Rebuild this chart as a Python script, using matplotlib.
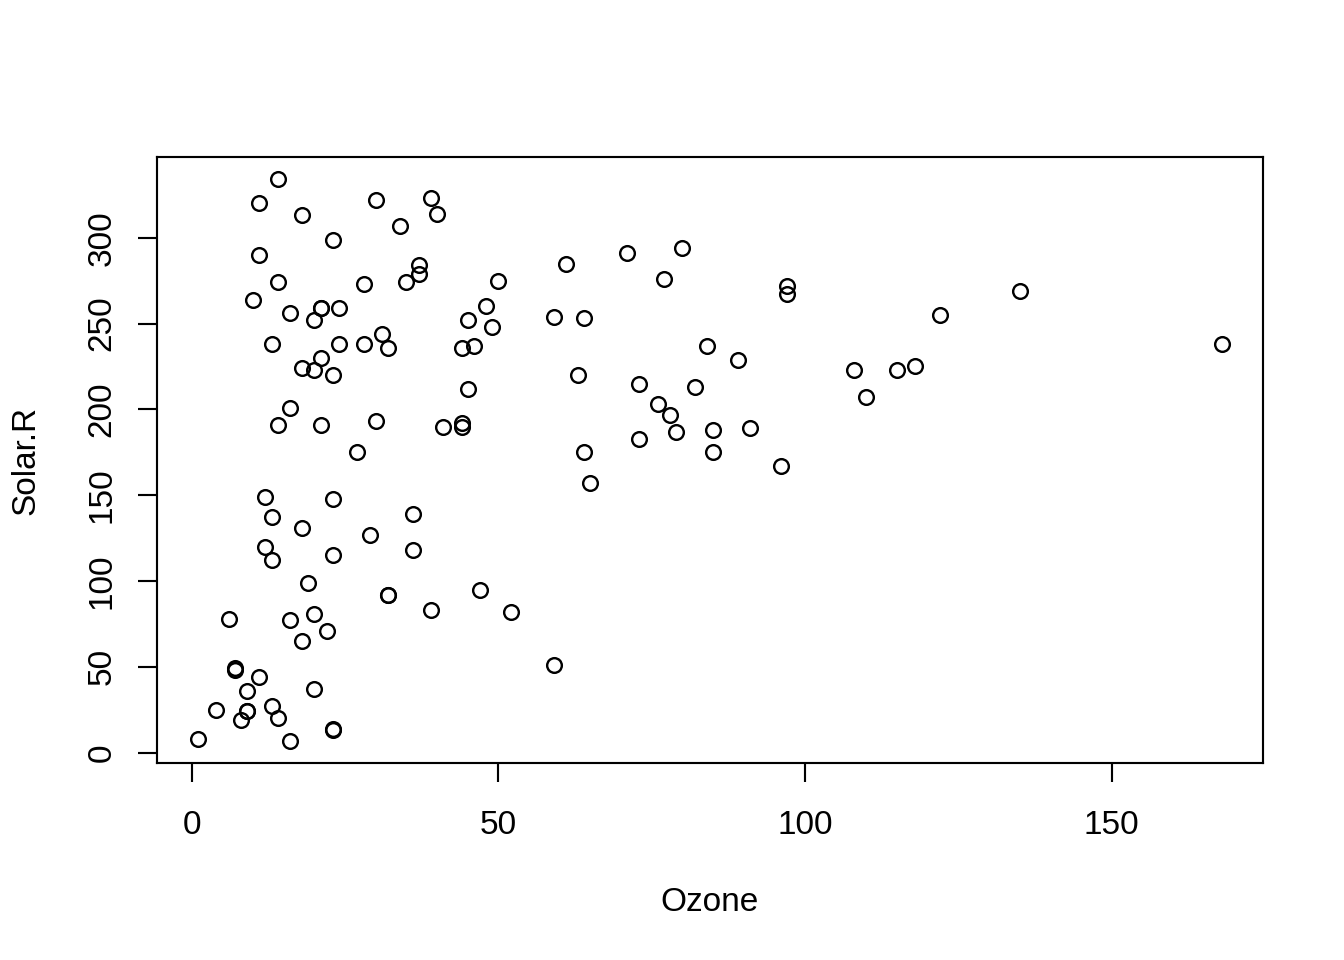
import matplotlib
matplotlib.use("Agg")
import matplotlib.pyplot as plt
import numpy as np

ozone = [41, 36, 12, 18, 23, 19, 8, 16, 11, 14, 18, 14, 34, 6, 30, 11, 1, 11, 4, 32,
         23, 45, 115, 37, 29, 71, 39, 23, 21, 37, 20, 12, 13, 135, 49, 32, 64, 40, 77, 97,
         97, 85, 10, 27, 7, 48, 35, 61, 79, 63, 16, 80, 108, 20, 52, 82, 50, 64, 59, 39,
         9, 16, 122, 89, 110, 44, 28, 65, 22, 59, 23, 31, 44, 21, 9, 45, 168, 73, 76, 118,
         84, 85, 96, 78, 73, 91, 47, 32, 20, 23, 21, 24, 44, 21, 28, 9, 13, 46, 18, 13,
         24, 16, 13, 23, 36, 7, 14, 30, 14, 18, 20]
solar_r = [190, 118, 149, 313, 299, 99, 19, 256, 290, 274, 65, 334, 307, 78, 322, 44, 8, 320, 25, 92,
           13, 252, 223, 279, 127, 291, 323, 148, 191, 284, 37, 120, 137, 269, 248, 236, 175, 314, 276, 267,
           272, 175, 264, 175, 48, 260, 274, 285, 187, 220, 7, 294, 223, 81, 82, 213, 275, 253, 254, 83,
           24, 77, 255, 229, 207, 192, 273, 157, 71, 51, 115, 244, 190, 259, 36, 212, 238, 215, 203, 225,
           237, 188, 167, 197, 183, 189, 95, 92, 252, 220, 230, 259, 236, 259, 238, 24, 112, 237, 224, 27,
           238, 201, 238, 14, 139, 49, 20, 193, 191, 131, 223]

x_ticks = [0, 50, 100, 150]
y_ticks = [0, 50, 100, 150, 200, 250, 300]

plt.rcParams['font.family'] = ['Liberation Sans', 'DejaVu Sans']

fig = plt.figure(figsize=(7, 5), dpi=192)
ax = fig.add_axes([157/1344, 1-763/960, (1263-157)/1344, (763-157)/960])

ax.plot(ozone, solar_r, linestyle='none', marker='o', markersize=5.5,
        markerfacecolor='none', markeredgecolor='black', markeredgewidth=0.9)

xr = max(ozone) - min(ozone)
yr = max(solar_r) - min(solar_r)
ax.set_xlim(min(ozone) - 0.04*xr, max(ozone) + 0.04*xr)
ax.set_ylim(min(solar_r) - 0.04*yr, max(solar_r) + 0.04*yr)

ax.set_xticks(x_ticks)
ax.set_xticklabels([str(t) for t in x_ticks])
ax.set_yticks(y_ticks)
ax.set_yticklabels([str(t) for t in y_ticks], rotation=90, va='center')

ax.tick_params(axis='both', direction='out', length=7.2, width=0.8, labelsize=12.5)
ax.tick_params(axis='x', pad=10.5)
ax.tick_params(axis='y', pad=7.5)
for s in ax.spines.values():
    s.set_linewidth(0.8)

ax.set_xlabel('Ozone', fontsize=12.5, labelpad=17)
ax.set_ylabel('Solar.R', fontsize=12.5, labelpad=17)

fig.savefig('out.png', dpi=192)
